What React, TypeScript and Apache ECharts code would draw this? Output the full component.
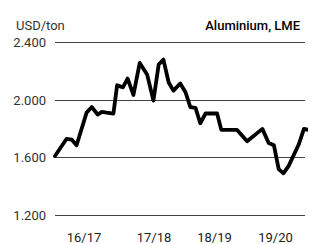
import React, { useEffect, useRef } from "react";
import * as echarts from "echarts";

// month index (0 = start of 16/17) and price USD/ton
const months = [0, 2.2, 3.2, 4.1, 6.0, 7.0, 8.1, 8.9, 9.8, 11.1, 11.8, 12.9, 13.8, 14.9, 16.1, 17.5, 18.7, 19.7, 20.6, 21.6, 22.5, 23.8, 24.8, 25.7, 26.7, 27.6, 28.6, 30.8, 31.6, 34.6, 36.5, 39.4, 40.6, 41.6, 42.5, 43.4, 44.4, 46.3, 47.3, 48.2];
const prices = [1610, 1730, 1724, 1685, 1912, 1951, 1899, 1917, 1912, 1906, 2103, 2088, 2149, 2035, 2258, 2178, 1996, 2247, 2281, 2122, 2065, 2115, 2054, 1951, 1945, 1838, 1906, 1906, 1792, 1792, 1713, 1799, 1701, 1685, 1519, 1490, 1542, 1690, 1799, 1792];
const seasons = ["16/17", "17/18", "18/19", "19/20"];
const seasonTicks = [5.5, 18.8, 30.3, 41.9];
const yTicks = [1200, 1600, 2000, 2400];
const unitLabel = "USD/ton";
const titleLabel = "Aluminium, LME";

const fmt = (v: number) => {
  const s = String(Math.round(v));
  return s.length > 3 ? s.slice(0, s.length - 3) + "." + s.slice(-3) : s;
};

export default function App() {
  const ref = useRef<HTMLDivElement>(null);
  useEffect(() => {
    if (!ref.current) return;
    const chart = echarts.init(ref.current, null, { renderer: "svg" });
    const font = "Roboto";
    chart.setOption({
      animation: false,
      backgroundColor: "#ffffff",
      textStyle: { fontFamily: font },
      title: [
        {
          text: unitLabel,
          left: 11,
          top: 14,
          textStyle: { fontSize: 13, fontWeight: "normal", color: "#333", fontFamily: font },
        },
        {
          text: titleLabel,
          right: 4,
          top: 14,
          textStyle: { fontSize: 13, fontWeight: 500, color: "#000", fontFamily: font },
        },
      ],
      grid: { left: 55, right: 4, top: 42.5, bottom: 25.5 },
      xAxis: {
        type: "value",
        min: 0,
        max: 47.5,
        axisLine: { show: false },
        axisTick: { show: false },
        splitLine: { show: false },
        axisLabel: {
          customValues: seasonTicks,
          formatter: (v: number) => {
            const i = seasonTicks.indexOf(v);
            return i >= 0 ? seasons[i] : "";
          },
          fontSize: 13,
          color: "#222",
          margin: 16,
          fontFamily: font,
        },
      },
      yAxis: {
        type: "value",
        min: yTicks[0],
        max: yTicks[yTicks.length - 1],
        interval: 400,
        axisLine: { show: false },
        axisTick: { show: false },
        axisLabel: { fontSize: 13, color: "#333", margin: 9, formatter: (v: number) => fmt(v), fontFamily: font },
        splitLine: { lineStyle: { color: "#444", width: 1 } },
      },
      series: [
        {
          type: "line",
          data: months.map((m, i) => [m, prices[i]]),
          showSymbol: false,
          clip: false,
          lineStyle: { color: "#000", width: 3.8, join: "round", cap: "round" },
        },
      ],
    });
    return () => chart.dispose();
  }, []);
  return <div ref={ref} style={{ width: 309, height: 244, position: "absolute", left: 0, top: 0 }} />;
}
